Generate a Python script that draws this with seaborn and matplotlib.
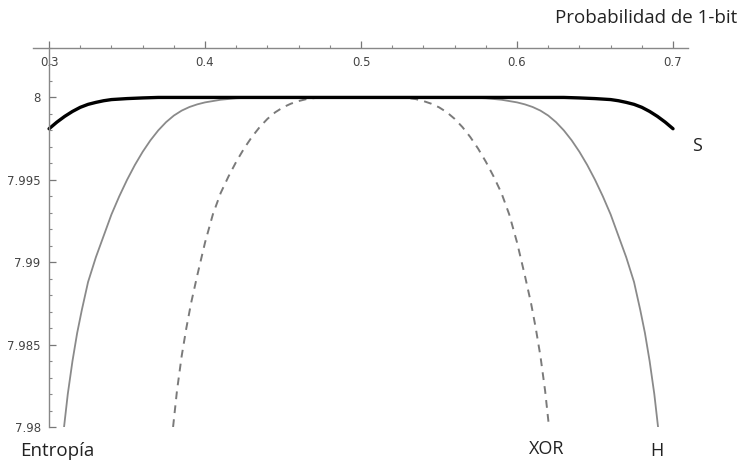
import numpy as np
import pandas as pd
import seaborn as sns
import matplotlib
matplotlib.use("Agg")
import matplotlib.pyplot as plt
from matplotlib.ticker import MultipleLocator

# ---------------- data ----------------
p_S = [0.300, 0.305, 0.310, 0.315, 0.320, 0.325, 0.330, 0.335, 0.340, 0.350,
       0.360, 0.370, 0.400, 0.500, 0.600, 0.630, 0.640, 0.650, 0.660, 0.665,
       0.670, 0.675, 0.680, 0.685, 0.690, 0.695, 0.700]
S = [7.99810, 7.99850, 7.99885, 7.99915, 7.99940, 7.99958, 7.99970, 7.99980,
     7.99987, 7.99993, 7.99997, 8.00000, 8.00000, 8.00000, 8.00000, 8.00000,
     7.99997, 7.99993, 7.99987, 7.99980, 7.99970, 7.99958, 7.99940, 7.99915,
     7.99885, 7.99850, 7.99810]

p_H = [0.3096, 0.312, 0.315, 0.318, 0.321, 0.325, 0.330, 0.335, 0.340, 0.345,
       0.350, 0.355, 0.360, 0.365, 0.370, 0.375, 0.380, 0.385, 0.390, 0.395,
       0.400, 0.410, 0.420, 0.430, 0.440,
       0.560, 0.570, 0.580, 0.590, 0.600, 0.605, 0.610, 0.615, 0.620, 0.625,
       0.630, 0.635, 0.640, 0.645, 0.650, 0.655, 0.660, 0.665, 0.670, 0.675,
       0.679, 0.682, 0.685, 0.688, 0.6904]
H = [7.98000, 7.98200, 7.98400, 7.98570, 7.98710, 7.98880, 7.99030, 7.99160,
     7.99290, 7.99400, 7.99500, 7.99590, 7.99670, 7.99740, 7.99800, 7.99850,
     7.99890, 7.99920, 7.99942, 7.99958, 7.99970, 7.99986, 7.99995, 7.99999,
     8.00000,
     8.00000, 7.99999, 7.99995, 7.99986, 7.99970, 7.99958, 7.99942, 7.99920,
     7.99890, 7.99850, 7.99800, 7.99740, 7.99670, 7.99590, 7.99500, 7.99400,
     7.99290, 7.99160, 7.99030, 7.98880, 7.98710, 7.98570, 7.98400, 7.98200,
     7.98000]

p_XOR = [0.3795, 0.382, 0.385, 0.388, 0.391, 0.395, 0.400, 0.405, 0.410, 0.415,
         0.420, 0.425, 0.430, 0.435, 0.440, 0.445, 0.450, 0.455, 0.460, 0.465,
         0.470, 0.475, 0.480,
         0.520, 0.525, 0.530, 0.535, 0.540, 0.545, 0.550, 0.555, 0.560, 0.565,
         0.570, 0.575, 0.580, 0.585, 0.590, 0.595, 0.600, 0.605, 0.609, 0.612,
         0.615, 0.618, 0.6205]
XOR = [7.98000, 7.98220, 7.98430, 7.98600, 7.98750, 7.98920, 7.99120, 7.99290,
       7.99420, 7.99520, 7.99610, 7.99690, 7.99760, 7.99820, 7.99870, 7.99910,
       7.99940, 7.99962, 7.99978, 7.99990, 7.99996, 7.99999, 8.00000,
       8.00000, 7.99999, 7.99996, 7.99990, 7.99978, 7.99962, 7.99940, 7.99910,
       7.99870, 7.99820, 7.99760, 7.99690, 7.99610, 7.99520, 7.99420, 7.99290,
       7.99120, 7.98920, 7.98750, 7.98600, 7.98430, 7.98220, 7.98000]

x_ticks = [0.3, 0.4, 0.5, 0.6, 0.7]
x_tick_labels = ["0.3", "0.4", "0.5", "0.6", "0.7"]
y_ticks = [7.98, 7.985, 7.99, 7.995, 8.0]
y_tick_labels = ["7.98", "7.985", "7.99", "7.995", "8"]

# ---------------- figure ----------------
sns.set_style("white")
plt.rcParams["font.family"] = ["Open Sans", "DejaVu Sans"]

W, Hpx = 748, 463
fig = plt.figure(figsize=(W / 100, Hpx / 100), dpi=100)
left_px, right_px, top_px, bot_px = 33, 688, 48, 427
ax = fig.add_axes([left_px / W, 1 - bot_px / Hpx,
                   (right_px - left_px) / W, (bot_px - top_px) / Hpx])

sns.lineplot(x=p_H, y=H, ax=ax, color="#8a8a8a", linewidth=1.3,
             sort=False, estimator=None)
sns.lineplot(x=p_XOR, y=XOR, ax=ax, color="#7a7a7a", linewidth=1.4,
             sort=False, estimator=None)
ax.lines[-1].set_dashes((4, 3.2))
sns.lineplot(x=p_S, y=S, ax=ax, color="black", linewidth=2.4,
             sort=False, estimator=None)

ax.set_xlim(0.2897, 0.7096)
ax.set_ylim(7.98, 8.003)

for s in ["top", "right"]:
    ax.spines[s].set_visible(False)
ax.spines["left"].set_position(("data", 0.3))
ax.spines["bottom"].set_position(("data", 8.003))
for s in ["left", "bottom"]:
    ax.spines[s].set_color("#888888")
    ax.spines[s].set_linewidth(1.0)

ax.set_xticks(x_ticks)
ax.set_xticklabels(x_tick_labels)
ax.set_yticks(y_ticks)
ax.set_yticklabels(y_tick_labels)
ax.xaxis.set_minor_locator(MultipleLocator(0.02))
ax.yaxis.set_minor_locator(MultipleLocator(0.001))
ax.tick_params(axis="both", which="both", bottom=True, left=True,
               top=False, right=False)
ax.tick_params(axis="both", which="major", direction="in", length=5,
               width=0.9, color="#777777", labelsize=8.5, labelcolor="#444444")
ax.tick_params(axis="both", which="minor", direction="in", length=2.5,
               width=0.8, color="#888888")
ax.tick_params(axis="x", which="major", pad=6)
ax.tick_params(axis="y", which="major", pad=6)
for lab in ax.get_xticklabels() + ax.get_yticklabels():
    lab.set_family(["DejaVu Sans"])
ax.set_xlabel("")
ax.set_ylabel("")
ax.patch.set_alpha(0)

# annotations
fig.text(737 / W, 1 - 18 / Hpx, "Probabilidad de 1-bit", ha="right",
         va="center", fontsize=13.5, color="#222222")
fig.text(20 / W, 1 - 451 / Hpx, "Entropía", ha="left", va="center",
         fontsize=13.5, color="#222222")
fig.text(697 / W, 1 - 146 / Hpx, "S", ha="center", va="center",
         fontsize=13, color="#222222")
fig.text(657 / W, 1 - 451 / Hpx, "H", ha="center", va="center",
         fontsize=13, color="#222222")
fig.text(547 / W, 1 - 449 / Hpx, "XOR", ha="center", va="center",
         fontsize=13, color="#222222")

fig.savefig("out.png", dpi=100, facecolor="white")
